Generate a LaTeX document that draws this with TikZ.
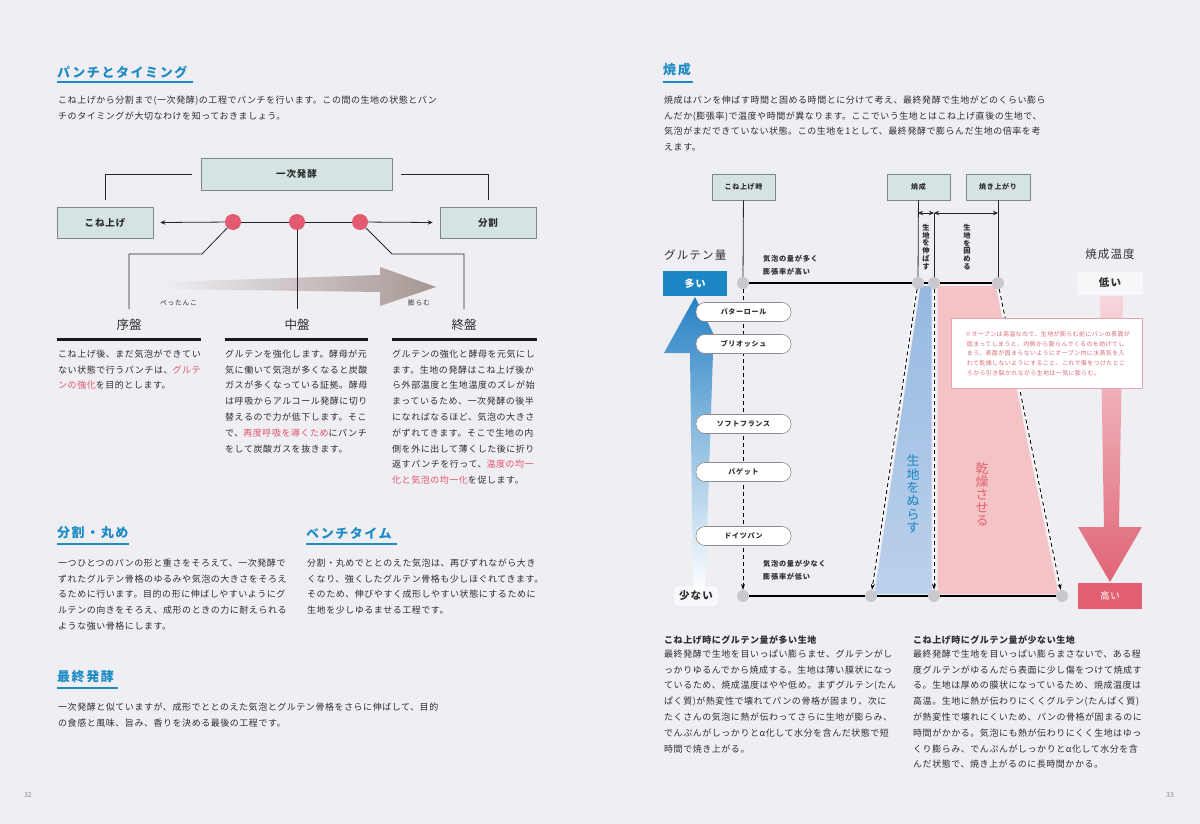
\documentclass[tikz,border=0pt]{standalone}
\usepackage{fontspec}
\setmainfont{Noto Sans CJK JP}
\newfontfamily\bodyf{Noto Sans CJK JP}[LetterSpace=6]
\newfontfamily\ttlf{Noto Sans CJK JP}[LetterSpace=12]
\newfontfamily\labf{Noto Sans CJK JP}[LetterSpace=10]
\usetikzlibrary{arrows.meta}
\newcommand\fs[2]{\fontsize{#1}{#2}\selectfont}
\definecolor{bg}{HTML}{EFEEF3}
\definecolor{tx}{HTML}{2E2E2E}
\definecolor{ttl}{HTML}{1E8CC4}
\definecolor{hl}{HTML}{E2546B}
\definecolor{boxf}{HTML}{D5E3E2}
\definecolor{boxd}{HTML}{7E8887}
\definecolor{rdot}{HTML}{E15A6F}
\definecolor{gdot}{HTML}{C8C8CE}
\definecolor{bblue}{HTML}{1A86C4}
\definecolor{pinkf}{HTML}{F3C3C6}
\definecolor{rbox}{HTML}{E2606F}
\definecolor{notec}{HTML}{D8697A}
\definecolor{pagen}{HTML}{8A8A8A}
\tikzset{
  body/.style={anchor=north west, inner sep=0pt, align=left, text=tx, font={\bodyf\fs{9}{15.8}}},
  ttlnode/.style={anchor=west, inner sep=0pt, text=ttl, font={\ttlf\bfseries\fs{13}{13}}},
  ttlline/.style={draw=ttl, line width=2.2pt},
  lbox/.style={draw=boxd, fill=boxf, line width=0.6pt, inner sep=0pt, text=tx, font={\labf\bfseries\fs{9.5}{9.5}}},
  rlbox/.style={draw=boxd, fill=boxf, line width=0.6pt, inner sep=0pt, text=tx, font={\labf\bfseries\fs{7}{7}}, minimum height=26pt},
  rdotn/.style={circle, fill=rdot, inner sep=0pt, minimum size=16pt},
  gdotn/.style={circle, fill=gdot, inner sep=0pt, minimum size=12pt},
  cn/.style={draw=black!85, line width=0.8pt},
  hline/.style={draw=black, line width=1.6pt},
  sepline/.style={draw=black!90, line width=3pt},
  stage/.style={inner sep=0pt, text=tx, font={\fs{12.5}{12.5}}},
  small/.style={inner sep=0pt, text=tx, font={\labf\fs{6.8}{6.8}}},
  pill/.style={draw=black!45, fill=white, rounded corners=9pt, minimum width=95pt, minimum height=19pt, inner sep=0pt, line width=0.6pt, text=tx, font={\labf\bfseries\fs{7}{7}}},
  dashar/.style={draw=black, line width=0.9pt, dash pattern=on 4pt off 3pt, -{Stealth[length=6pt,width=4pt]}},
  whitel/.style={draw=white, line width=2.5pt},
  vtxt/.style={inner sep=0pt, align=center},
  smbold/.style={anchor=north west, inner sep=0pt, align=left, text=tx, font={\labf\bfseries\fs{7.2}{13}}},
  tip/.style={-{Stealth[length=5pt,width=4.5pt]}},
  dtip/.style={{Stealth[length=5pt,width=4.5pt]}-{Stealth[length=5pt,width=4.5pt]}}
}
\begin{document}
\begin{tikzpicture}[x=1pt,y=-1pt]
\fill[bg] (0,0) rectangle (1200,824);
\useasboundingbox (0,0) rectangle (1200,824);

% ================= LEFT PAGE =================
\node[ttlnode] (t1) at (57,72) {パンチとタイミング};
\draw[ttlline] (57,82) -- (193,82);
\node[body] (p1) at (58,95.5) {こね上げから分割まで(一次発酵)の工程でパンチを行います。この間の生地の状態とパン\\チのタイミングが大切なわけを知っておきましょう。};

% gradient arrow
\shade[left color=bg, right color={rgb,255:red,166;green,150;blue,146}]
  (163,282) -- (380,275) -- (380,267) -- (436,287) -- (380,306) -- (380,292) -- (163,289) -- cycle;
\node[small, anchor=west] (pet) at (160,303) {ぺったんこ};
\node[small, anchor=west] (fuk) at (408,303) {膨らむ};

% boxes
\node[lbox, minimum width=191pt, minimum height=32pt] (ich) at (296.5,174) {一次発酵};
\node[lbox, minimum width=96pt, minimum height=31pt] (kone) at (105,222.5) {こね上げ};
\node[lbox, minimum width=96pt, minimum height=31pt] (bun) at (488,222.5) {分割};
\draw[cn] ([xshift=-9pt]ich.west) -| ([yshift=7pt]kone.north);
\draw[cn] ([xshift=9pt]ich.east) -| ([yshift=7pt]bun.north);

\node[rdotn] (d1) at (233,222) {};
\node[rdotn] (d2) at (297,222) {};
\node[rdotn] (d3) at (360,222) {};
\draw[cn, tip] (d1) -- ([xshift=7pt]kone.east);
\draw[cn, tip] (d3) -- ([xshift=-7pt]bun.west);
\draw[cn] (d1) -- (d2);
\draw[cn] (d2) -- (d3);

\coordinate (c1a) at (202,254);
\coordinate (c1b) at (129,309);
\coordinate (c2) at (297,309);
\coordinate (c3a) at (392,254);
\coordinate (c3b) at (464,309);
\draw[cn] (d1) -- (c1a) -| (c1b);
\draw[cn] (d2) -- (c2);
\draw[cn] (d3) -- (c3a) -| (c3b);

\node[stage] (jo) at (129,325) {序盤};
\node[stage] (chu) at (297,325) {中盤};
\node[stage] (shu) at (464,325) {終盤};
\draw[sepline] (57,339) -- (201,339);
\draw[sepline] (225,339) -- (368,339);
\draw[sepline] (392,339) -- (537,339);

\node[body] (col1) at (58,349.5) {こね上げ後、まだ気泡ができてい\\ない状態で行うパンチは、\textcolor{hl}{グルテ}\\\textcolor{hl}{ンの強化}を目的とします。};
\node[body] (col2) at (225,349.5) {グルテンを強化します。酵母が元\\気に働いて気泡が多くなると炭酸\\ガスが多くなっている証拠。酵母\\は呼吸からアルコール発酵に切り\\替えるので力が低下します。そこ\\で、\textcolor{hl}{再度呼吸を導くため}にパンチ\\をして炭酸ガスを抜きます。};
\node[body] (col3) at (392,349.5) {グルテンの強化と酵母を元気にし\\ます。生地の発酵はこね上げ後か\\ら外部温度と生地温度のズレが始\\まっているため、一次発酵の後半\\になればなるほど、気泡の大きさ\\がずれてきます。そこで生地の内\\側を外に出して薄くした後に折り\\返すパンチを行って、\textcolor{hl}{温度の均一}\\\textcolor{hl}{化と気泡の均一化}を促します。};

\node[ttlnode] (t2) at (57,533) {分割・丸め};
\draw[ttlline] (57,544) -- (129,544);
\node[body] (p2) at (58,558.5) {一つひとつのパンの形と重さをそろえて、一次発酵で\\ずれたグルテン骨格のゆるみや気泡の大きさをそろえ\\るために行います。目的の形に伸ばしやすいようにグ\\ルテンの向きをそろえ、成形のときの力に耐えられる\\ような強い骨格にします。};

\node[ttlnode] (t3) at (306,533) {ベンチタイム};
\draw[ttlline] (306,544) -- (397,544);
\node[body] (p3) at (307,558.5) {分割・丸めでととのえた気泡は、再びずれながら大き\\くなり、強くしたグルテン骨格も少しほぐれてきます。\\そのため、伸びやすく成形しやすい状態にするために\\生地を少しゆるませる工程です。};

\node[ttlnode] (t4) at (57,677) {最終発酵};
\draw[ttlline] (57,688) -- (118,688);
\node[body] (p4) at (58,702.5) {一次発酵と似ていますが、成形でととのえた気泡とグルテン骨格をさらに伸ばして、目的\\の食感と風味、旨み、香りを決める最後の工程です。};

\node[inner sep=0pt, text=pagen, font=\fs{7}{7}] (pn1) at (28,795) {32};
\node[inner sep=0pt, text=pagen, font=\fs{7}{7}] (pn2) at (1170,795) {33};

% ================= RIGHT PAGE =================
\node[ttlnode] (t5) at (663,70) {焼成};
\draw[ttlline] (663,82) -- (693,82);
\node[body] (p5) at (664,95.5) {焼成はパンを伸ばす時間と固める時間とに分けて考え、最終発酵で生地がどのくらい膨ら\\んだか(膨張率)で温度や時間が異なります。ここでいう生地とはこね上げ直後の生地で、\\気泡がまだできていない状態。この生地を1として、最終発酵で膨らんだ生地の倍率を考\\えます。};

% trapezoids
\shade[top color={rgb,255:red,150;green,185;blue,225}, bottom color={rgb,255:red,188;green,209;blue,236}]
  (920.5,286) -- (931.5,286) -- (931.5,594) -- (874.5,594) -- cycle;
\fill[pinkf] (937.5,286) -- (995.6,286) -- (1058.4,594) -- (937.5,594) -- cycle;

% blue arrow (up)
\shade[top color={rgb,255:red,40;green,130;blue,196}, bottom color=white]
  (693,592) -- (690,353) -- (664,353) -- (695,297) -- (723,353) -- (713,353) -- (705,592) -- cycle;
% red arrow (down)
\shade[top color={rgb,255:red,246;green,214;blue,219}, bottom color={rgb,255:red,224;green,100;blue,117}]
  (1100,296) -- (1123,296) -- (1119,527) -- (1142,527) -- (1110,582) -- (1078,527) -- (1104,527) -- cycle;

% boxes top
\node[rlbox, minimum width=63pt] (rk) at (743.5,187) {こね上げ時};
\node[rlbox, minimum width=63pt] (ys) at (918.5,187) {焼成};
\node[rlbox, minimum width=64pt] (ya) at (998,187) {焼き上がり};

% dots
\node[gdotn] (g1) at (743,283) {};
\node[gdotn] (g2) at (918,283) {};
\node[gdotn] (g3) at (934,283) {};
\node[gdotn] (g4) at (998,283) {};
\node[gdotn] (h1) at (743,596) {};
\node[gdotn] (h2) at (871,596) {};
\node[gdotn] (h3) at (934,596) {};
\node[gdotn] (h4) at (1062,596) {};

\draw[hline] (g1) -- (g2);
\draw[hline] (g2) -- (g3);
\draw[hline] (g3) -- (g4);
\draw[hline] (h1) -- (h2);
\draw[hline] (h2) -- (h3);
\draw[hline] (h3) -- (h4);

\draw[cn] (rk) -- (g1);
\draw[cn] (ys) -- (g2);
\draw[cn] (ya) -- (g4);
\coordinate (a2) at (918,213);
\coordinate (a3) at (934,213);
\coordinate (a4) at (998,213);
\draw[cn] (a3) -- (g3);
\draw[cn, dtip] (a2) -- (a3);
\draw[cn, dtip] (a3) -- (a4);

\node[vtxt, text=tx, font={\bfseries\fs{7.3}{7.7}}] (nob) at (926,247) {生\\地\\を\\伸\\ば\\す};
\node[vtxt, text=tx, font={\bfseries\fs{7.3}{7.7}}] (kat) at (967,247) {生\\地\\を\\固\\め\\る};

% dashed arrows
\draw[whitel] (g2) -- (h2);
\draw[whitel] (g3) -- (h3);
\draw[whitel] (g4) -- (h4);
\draw[dashar] (g1) -- (h1);
\draw[dashar] (g2) -- (h2);
\draw[dashar] (g3) -- (h3);
\draw[dashar] (g4) -- (h4);

\node[vtxt, text=bblue, font={\fs{13}{13.3}}] (nur) at (913,494) {生\\地\\を\\ぬ\\ら\\す};
\node[vtxt, text=rbox, font={\fs{13}{13}}] (kan) at (982,494) {乾\\燥\\さ\\せ\\る};

\node[smbold] (tx1) at (763,255) {気泡の量が多く\\膨張率が高い};
\node[smbold] (tx2) at (763,560) {気泡の量が少なく\\膨張率が低い};

\node[anchor=west, inner sep=0pt, text=tx, font={\labf\fs{11.5}{11.5}}] (glu) at (664,255) {グルテン量};
\node[fill=bblue, minimum width=64pt, minimum height=25pt, inner sep=0pt, text=white, font={\labf\bfseries\fs{10}{10}}] (ooi) at (695,283.5) {多い};

\node[pill] (pl1) at (743.5,312) {バターロール};
\node[pill] (pl2) at (743.5,344) {ブリオッシュ};
\node[pill] (pl3) at (743.5,424) {ソフトフランス};
\node[pill] (pl4) at (743.5,472) {バゲット};
\node[pill] (pl5) at (743.5,536) {ドイツパン};

\node[fill=white, fill opacity=0.6, text opacity=1, rounded corners=4pt, minimum width=44pt, minimum height=20pt, inner sep=0pt, text=tx, font={\labf\bfseries\fs{10.5}{10.5}}] (suk) at (696,596) {少ない};

\node[inner sep=0pt, text=tx, font={\labf\fs{11.5}{11.5}}] (ysn) at (1110,254) {焼成温度};
\node[fill=white, fill opacity=0.5, text opacity=1, minimum width=66pt, minimum height=23pt, inner sep=0pt, text=tx, font={\labf\bfseries\fs{10.5}{10.5}}] (hik) at (1110,283) {低い};
\node[fill=rbox, minimum width=64pt, minimum height=26pt, inner sep=0pt, text=white, font={\labf\fs{9.5}{9.5}}] (tak) at (1110,596) {高い};

% note
\node[draw={rgb,255:red,228;green,165;blue,173}, fill=white, line width=0.6pt, minimum width=191pt, minimum height=70pt, inner sep=0pt] (nbox) at (1046.5,353) {};
\node[anchor=north west, inner sep=0pt, align=left, text=notec, font={\bodyf\fs{6}{9.8}}] (ntx) at (965,331) {※オーブンは高温なので、生地が膨らむ前にパンの表面が\\\ 固まってしまうと、内側から膨らんでくるのを妨げてし\\\ まう。表面が固まらないようにオーブン内に水蒸気を入\\\ れて乾燥しないようにすること。これで傷をつけたとこ\\\ ろから引き裂かれながら生地は一気に膨らむ。};

% bottom texts
\node[anchor=west, inner sep=0pt, text=tx, font={\bodyf\bfseries\fs{9}{9}}] (hd1) at (664,640) {こね上げ時にグルテン量が多い生地};
\node[body] (b1) at (664,649.5) {最終発酵で生地を目いっぱい膨らませ、グルテンがし\\っかりゆるんでから焼成する。生地は薄い膜状になっ\\ているため、焼成温度はやや低め。まずグルテン(たん\\ぱく質)が熱変性で壊れてパンの骨格が固まり、次に\\たくさんの気泡に熱が伝わってさらに生地が膨らみ、\\でんぷんがしっかりとα化して水分を含んだ状態で短\\時間で焼き上がる。};
\node[anchor=west, inner sep=0pt, text=tx, font={\bodyf\bfseries\fs{9}{9}}] (hd2) at (913,640) {こね上げ時にグルテン量が少ない生地};
\node[body] (b2) at (913,649.5) {最終発酵で生地を目いっぱい膨らまさないで、ある程\\度グルテンがゆるんだら表面に少し傷をつけて焼成す\\る。生地は厚めの膜状になっているため、焼成温度は\\高温。生地に熱が伝わりにくくグルテン(たんぱく質)\\が熱変性で壊れにくいため、パンの骨格が固まるのに\\時間がかかる。気泡にも熱が伝わりにくく生地はゆっ\\くり膨らみ、でんぷんがしっかりとα化して水分を含\\んだ状態で、焼き上がるのに長時間かかる。};
\end{tikzpicture}
\end{document}
